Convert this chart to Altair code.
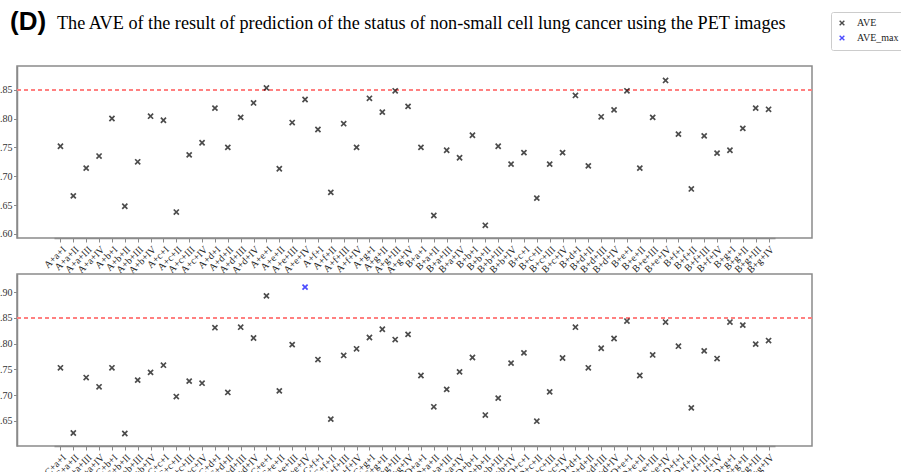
import altair as alt
import pandas as pd

# Model labels: cohort + feature set + stage
top_groups = ["A", "B"]
bottom_groups = ["C", "D"]
features = ["a", "b", "c", "d", "e", "f", "g"]
stages = ["I", "II", "III", "IV"]

top_values = [
    0.752, 0.666, 0.714, 0.735, 0.800, 0.648, 0.725, 0.804, 0.797, 0.638,
    0.737, 0.758, 0.818, 0.750, 0.802, 0.827, 0.853, 0.713, 0.793, 0.833,
    0.781, 0.672, 0.791, 0.750, 0.835, 0.811, 0.848, 0.821, 0.750, 0.632,
    0.745, 0.732, 0.771, 0.615, 0.752, 0.721, 0.741, 0.662, 0.721, 0.741,
    0.840, 0.718, 0.803, 0.815, 0.848, 0.714, 0.802, 0.866, 0.773, 0.678,
    0.770, 0.740, 0.745, 0.783, 0.818, 0.816,
]
bottom_values = [
    0.753, 0.626, 0.734, 0.716, 0.753, 0.625, 0.729, 0.744, 0.758, 0.697,
    0.727, 0.723, 0.831, 0.705, 0.832, 0.811, 0.893, 0.708, 0.798, 0.910,
    0.769, 0.653, 0.777, 0.790, 0.812, 0.828, 0.808, 0.818, 0.738, 0.677,
    0.711, 0.745, 0.773, 0.661, 0.694, 0.762, 0.782, 0.649, 0.706, 0.772,
    0.832, 0.753, 0.791, 0.810, 0.844, 0.738, 0.778, 0.842, 0.795, 0.675,
    0.786, 0.771, 0.842, 0.836, 0.799, 0.806,
]
threshold = 0.85

top_domain = [0.593, 0.891]
top_ticks = [0.60, 0.65, 0.70, 0.75, 0.80, 0.85]
bottom_domain = [0.6007, 0.9356]
bottom_ticks = [0.65, 0.70, 0.75, 0.80, 0.85, 0.90]

PANEL_W, PANEL_H = 795, 172
X_INSET = 37  # gap between frame and the first/last category

SERIF = "Liberation Serif"
GRAY = "#8a8a8a"
X_SHAPE = "M -1 -1 L 1 1 M -1 1 L 1 -1"

best = max(top_values + bottom_values)


def labels(groups):
    return [f"{g}+{f}+{s}" for g in groups for f in features for s in stages]


def panel(groups, values, domain, ticks, title=False):
    cats = labels(groups)
    df = pd.DataFrame({
        "model": cats,
        "ave": values,
        "series": ["AVE_max" if v == best else "AVE" for v in values],
    })
    base = alt.Chart(df)
    x = alt.X(
        "model:N", sort=cats,
        scale=alt.Scale(type="point", range=[X_INSET, PANEL_W - X_INSET]),
        axis=alt.Axis(title=None, labelAngle=-45, labelFont=SERIF, labelFontSize=10,
                      labelColor="#222", tickColor=GRAY, domainColor=GRAY,
                      domainWidth=1.5, tickSize=4, labelPadding=2),
    )
    y_axis = alt.Axis(title=None, values=ticks, format=".2f", labelFont=SERIF,
                      labelFontSize=10, labelColor="#333", tickColor=GRAY,
                      domainColor=GRAY, domainWidth=1.5, tickSize=3.5, labelPadding=1.5,
                      grid=False, labelOverlap=False, labelFlush=False)
    y = alt.Y("ave:Q", scale=alt.Scale(domain=domain, nice=False, zero=False), axis=y_axis)
    points = base.mark_point(shape=X_SHAPE, filled=False, strokeWidth=1.7, size=26).encode(
        x=x, y=y,
        color=alt.Color(
            "series:N",
            scale=alt.Scale(domain=["AVE", "AVE_max"], range=["#000000", "#0000ff"]),
            legend=alt.Legend(
                title=None, orient="none", legendX=814, legendY=-54,
                labelFont=SERIF, labelFontSize=10, labelColor="#222",
                symbolType=X_SHAPE, symbolSize=22, symbolStrokeWidth=1.4,
                strokeColor="#cccccc", fillColor="white", padding=6,
                cornerRadius=2, rowPadding=3, labelOffset=10,
            ),
        ),
    )
    # dashed reference line at the 0.85 threshold
    rule = base.mark_rule(color="#ff8080", strokeDash=[4, 3], strokeWidth=1.2).encode(
        y=alt.Y(datum=threshold, axis=y_axis)
    )
    layers = [rule, points]
    if title:
        tag = alt.Chart(pd.DataFrame({"t": ["(D)"]})).mark_text(
            font="Liberation Sans", fontWeight="bold", fontSize=26,
            align="left", baseline="alphabetic", color="black",
        ).encode(x=alt.value(-7), y=alt.value(-36), text="t:N")
        head = alt.Chart(pd.DataFrame({"t": [
            "The AVE of the result of prediction of the status of non-small cell lung cancer using the PET images"
        ]})).mark_text(
            font=SERIF, fontSize=18.2, align="left", baseline="alphabetic", color="black",
        ).encode(x=alt.value(40), y=alt.value(-37), text="t:N")
        layers += [tag, head]
    return alt.layer(*layers).properties(width=PANEL_W, height=PANEL_H)


top = panel(top_groups, top_values, top_domain, top_ticks, title=True)
bottom = panel(bottom_groups, bottom_values, bottom_domain, bottom_ticks)

chart = alt.vconcat(top, bottom, spacing=36, bounds="flush").resolve_scale(
    x="independent", y="independent", color="shared"
).properties(
    padding={"left": 17, "top": 66, "right": 89, "bottom": 406},
    autosize=alt.AutoSizeParams(type="none"),
).configure_view(
    stroke=GRAY, strokeWidth=1.5
).configure_axis(labelOverlap=False)

chart.save("out.html", embed_options={"renderer": "svg", "actions": False})
